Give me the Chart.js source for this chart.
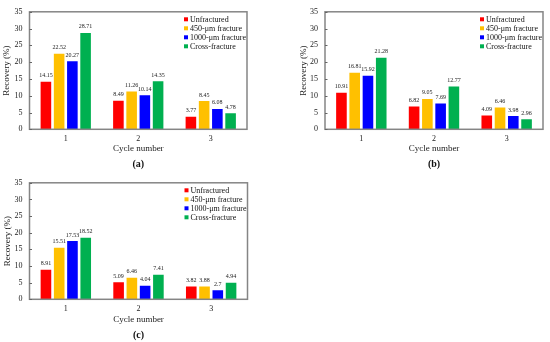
<!DOCTYPE html>
<html>
<head>
<meta charset="utf-8">
<script src="https://cdn.jsdelivr.net/npm/chart.js@4"></script>
<style>
  html, body { margin: 0; padding: 0; background: #fff; }
  body { width: 550px; height: 342px; position: relative; overflow: hidden; }
  canvas { position: absolute; }
</style>
</head>
<body>
<canvas id="ca" width="275" height="171" style="left:0;top:0"></canvas>
<canvas id="cb" width="275" height="171" style="left:275px;top:0"></canvas>
<canvas id="cc" width="275" height="171" style="left:0;top:171px"></canvas>
<script>
// ---- data ----
const categories = ['1', '2', '3'];
const seriesNames = ['Unfractured', '450-\u03bcm fracture', '1000-\u03bcm fracture', 'Cross-fracture'];
const seriesColors = ['#FF0000', '#FFC000', '#0000FF', '#00B050'];
const yTicks = [0, 5, 10, 15, 20, 25, 30, 35];

// panel (a)
const a_unfractured = [14.15, 8.49, 3.77];
const a_frac450 = [22.52, 11.26, 8.45];
const a_frac1000 = [20.27, 10.14, 6.08];
const a_cross = [28.71, 14.35, 4.78];
// panel (b)
const b_unfractured = [10.91, 6.82, 4.09];
const b_frac450 = [16.81, 9.05, 6.46];
const b_frac1000 = [15.92, 7.69, 3.98];
const b_cross = [21.28, 12.77, 2.96];
// panel (c)
const c_unfractured = [8.91, 5.09, 3.82];
const c_frac450 = [15.51, 6.46, 3.88];
const c_frac1000 = [17.53, 4.04, 2.7];
const c_cross = [18.52, 7.41, 4.94];

const FONT = "'Liberation Serif', 'Times New Roman', serif";

const framePlugin = {
  id: 'frame',
  afterDraw(chart, args, opts) {
    const ctx = chart.ctx;
    const a = chart.chartArea;
    ctx.save();
    // box
    ctx.strokeStyle = '#858585';
    ctx.lineWidth = 1.5;
    ctx.strokeRect(a.left, a.top, a.right - a.left, a.bottom - a.top);
    // inward y ticks
    const ys = chart.scales.y;
    ctx.lineWidth = 1;
    ctx.strokeStyle = '#666';
    ys.ticks.forEach(t => {
      const y = Math.round(ys.getPixelForValue(t.value)) + 0.5;
      ctx.beginPath();
      ctx.moveTo(a.left, y);
      ctx.lineTo(a.left + 2.5, y);
      ctx.stroke();
    });
    // value labels
    ctx.fillStyle = '#222';
    ctx.font = '6px ' + FONT;
    ctx.textAlign = 'center';
    ctx.textBaseline = 'bottom';
    chart.data.datasets.forEach((ds, di) => {
      const meta = chart.getDatasetMeta(di);
      meta.data.forEach((bar, i) => {
        ctx.fillText(String(ds.data[i]), bar.x, bar.y - 3);
      });
    });
    // legend inside plot
    ctx.font = '8px ' + FONT;
    ctx.textAlign = 'left';
    ctx.textBaseline = 'middle';
    const lx = a.right - opts.legendRight;
    const ly = a.top + opts.legendTop;
    chart.data.datasets.forEach((ds, di) => {
      const y = ly + di * 9;
      ctx.fillStyle = ds.backgroundColor;
      ctx.fillRect(lx, y - 2, 4, 4);
      ctx.fillStyle = '#111';
      ctx.fillText(ds.label, lx + 6, y + 0.5);
    });
    // panel label
    ctx.font = 'bold 10px ' + FONT;
    ctx.textAlign = 'center';
    ctx.fillStyle = '#111';
    ctx.fillText(opts.panel, (a.left + a.right) / 2, opts.panelY);
    ctx.restore();
  }
};

function makeChart(id, vals, cfg) {
  const datasets = vals.map((v, i) => ({
    label: seriesNames[i],
    data: v,
    backgroundColor: seriesColors[i],
    borderWidth: 0,
    categoryPercentage: 0.73,
    barPercentage: 0.8
  }));
  return new Chart(document.getElementById(id), {
    type: 'bar',
    data: { labels: categories, datasets },
    plugins: [framePlugin],
    options: {
      responsive: false,
      animation: false,
      devicePixelRatio: 1,
      layout: { padding: { top: cfg.top, right: cfg.right, bottom: cfg.bottom, left: cfg.left } },
      plugins: {
        legend: { display: false },
        tooltip: { enabled: false },
        frame: { legendRight: 63, legendTop: 7.5, panel: cfg.panel, panelY: cfg.panelY }
      },
      scales: {
        x: {
          grid: { display: false, drawTicks: false },
          border: { display: false },
          ticks: { color: '#222', font: { family: FONT, size: 8 }, padding: 5 },
          title: { display: true, text: 'Cycle number', color: '#222', font: { family: FONT, size: 9 }, padding: { top: 0, bottom: 0 } },
          afterFit(s) { s.height = cfg.xh; }
        },
        y: {
          min: 0, max: 35,
          afterBuildTicks(s) { s.ticks = yTicks.map(v => ({ value: v })); },
          grid: { display: false, drawTicks: false },
          border: { display: false },
          ticks: { color: '#222', font: { family: FONT, size: 8 }, padding: 7 },
          title: { display: true, text: 'Recovery (%)', color: '#222', font: { family: FONT, size: 9 }, padding: { top: cfg.ytp, bottom: 0 } },
          afterFit(s) { s.width = cfg.yw; }
        }
      }
    }
  });
}

makeChart('ca', [a_unfractured, a_frac450, a_frac1000, a_cross],
  { top: 6.7, right: 28, bottom: 16.6, left: 0, xh: 25.1, yw: 29.5, ytp: 1, panel: '(a)', panelY: 164 });
makeChart('cb', [b_unfractured, b_frac450, b_frac1000, b_cross],
  { top: 6.7, right: 7, bottom: 16.6, left: 22, xh: 25.1, yw: 28, ytp: 1, panel: '(b)', panelY: 164 });
makeChart('cc', [c_unfractured, c_frac450, c_frac1000, c_cross],
  { top: 5, right: 27.5, bottom: 17.3, left: 0, xh: 25.4, yw: 29.5, ytp: 2, panel: '(c)', panelY: 164 });
</script>
</body>
</html>
